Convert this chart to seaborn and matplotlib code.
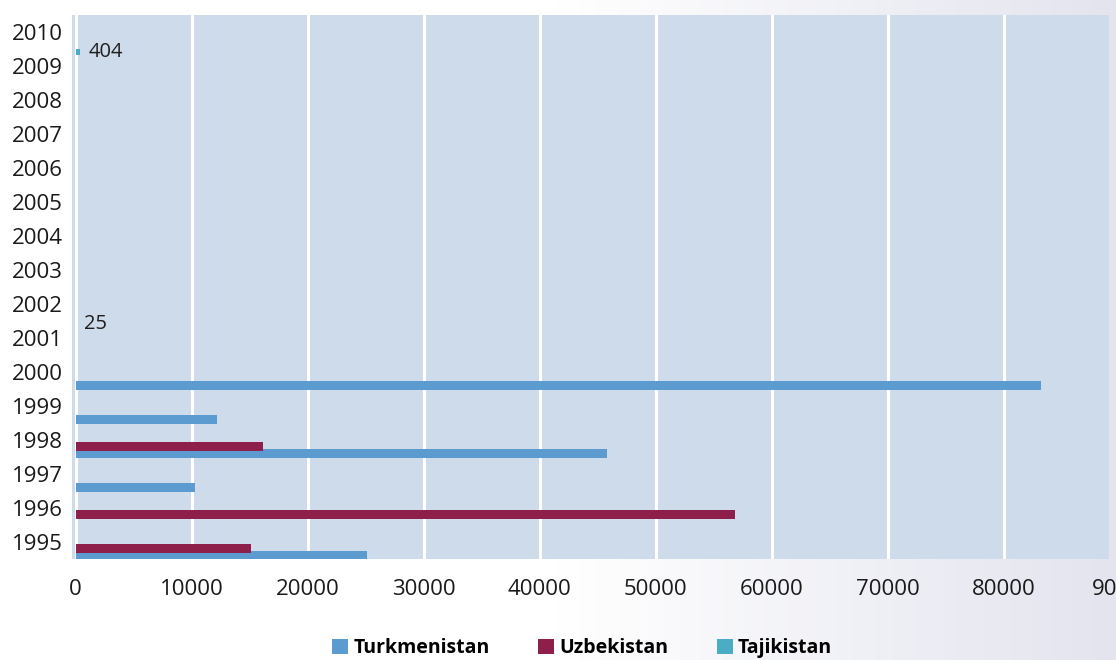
import numpy as np
import pandas as pd
import seaborn as sns
import matplotlib.pyplot as plt
from matplotlib.patches import Patch
from matplotlib.colors import LinearSegmentedColormap

# data
years = list(range(1995, 2011))
turkmenistan = [25100, 0, 10300, 45800, 12200, 83200, 0, 0, 0, 0, 0, 0, 0, 0, 0, 0]
uzbekistan = [15100, 56800, 0, 16100, 0, 0, 0, 0, 0, 0, 0, 0, 0, 0, 0, 0]
tajikistan = [0, 0, 0, 0, 0, 0, 25, 0, 0, 0, 0, 0, 0, 0, 404, 0]
series_names = ["Turkmenistan", "Uzbekistan", "Tajikistan"]
x_ticks = [0, 10000, 20000, 30000, 40000, 50000, 60000, 70000, 80000]

colors = {"Turkmenistan": "#5b9bd0", "Uzbekistan": "#8e1f4a", "Tajikistan": "#4bacc6"}
# vertical offset of each series inside its year band, and bar thickness
offsets = {"Turkmenistan": -0.39, "Uzbekistan": -0.19, "Tajikistan": 0.41}
heights = {"Turkmenistan": 0.27, "Uzbekistan": 0.27, "Tajikistan": 0.18}

sns.set_theme(style="white")
plt.rcParams["font.family"] = ["Open Sans", "DejaVu Sans"]

fig = plt.figure(figsize=(11.16, 6.6), dpi=100)

# soft white-to-lavender page background
bg = fig.add_axes([0, 0, 1, 1], zorder=-10)
cmap = LinearSegmentedColormap.from_list("page", ["#ffffff", "#ffffff", "#e3e4ee"])
grad = np.tile(np.linspace(0, 1, 256), (2, 1))
bg.imshow(grad, aspect="auto", cmap=cmap, extent=[0, 1, 0, 1])
bg.axis("off")

ax = fig.add_axes([72 / 1116, 1 - 559.3 / 660, 1037 / 1116, 544.3 / 660])
ax.set_facecolor("#cedbea")

all_vals = {"Turkmenistan": turkmenistan, "Uzbekistan": uzbekistan, "Tajikistan": tajikistan}
for name in series_names:
    df = pd.DataFrame({"value": all_vals[name], "year": np.array(years) + offsets[name]})
    sns.barplot(data=df, x="value", y="year", orient="y", native_scale=True,
                width=heights[name], color=colors[name], saturation=1,
                errorbar=None, linewidth=0, ax=ax, zorder=3)

# value labels for the small Tajikistan bars
labels = [str(v) if v > 0 else "" for v in tajikistan]
ax.bar_label(ax.containers[-1], labels=labels, padding=6, fontsize=14.5, color="#1e1e1e")

ax.set_xlim(-320, 89050)
ax.set_ylim(1994.5, 2010.5)
ax.set_yticks(years)
ax.set_yticklabels([str(y) for y in years])
ax.set_xticks(x_ticks)
ax.set_xticklabels([str(t) for t in x_ticks])
ax.tick_params(axis="y", length=0, pad=6.5, labelsize=16, labelcolor="#1a1a1a")
ax.tick_params(axis="x", length=0, pad=14, labelsize=16, labelcolor="#1a1a1a")
# last tick label, cut by the page edge as in the original
ax.annotate("90000", xy=(90000, 0), xycoords=("data", "axes fraction"),
            xytext=(3, -14), textcoords="offset points", ha="center", va="top",
            fontsize=16, color="#1a1a1a", annotation_clip=False)

ax.grid(axis="x", color="white", linewidth=2.2, zorder=1)
ax.grid(axis="y", visible=False)
ax.set_axisbelow(True)
ax.set_xlabel("")
ax.set_ylabel("")
for s in ax.spines.values():
    s.set_visible(False)

handles = [Patch(facecolor=colors[n], edgecolor="none", label=n) for n in series_names]
leg = fig.legend(handles=handles, loc="center", bbox_to_anchor=(582 / 1116, 1 - 648 / 660),
                 ncol=3, frameon=False, prop={"weight": "bold", "size": 14},
                 handlelength=0.82, handleheight=0.82, handletextpad=0.25, columnspacing=2.5)
for t in leg.get_texts():
    t.set_color("black")

fig.savefig("out.png", dpi=100)
